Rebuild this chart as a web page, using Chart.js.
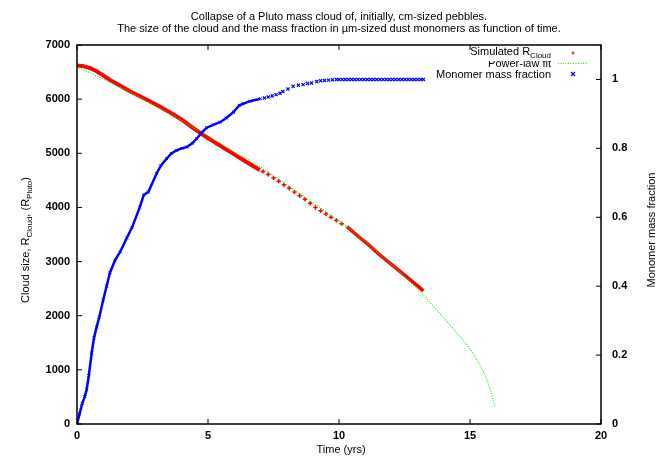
<!DOCTYPE html>
<html>
<head>
<meta charset="utf-8">
<script src="https://cdn.jsdelivr.net/npm/chart.js@4.4.1/dist/chart.umd.min.js"></script>
<style>
  html, body { margin: 0; padding: 0; background: #fff; }
  #wrap { width: 664px; height: 457px; }
</style>
</head>
<body>
<div id="wrap"><canvas id="cloudChart" width="664" height="457"></canvas></div>
<script>
// titik-titik (tahun, R_Pluto / fraksi)
const xTicks = [0, 5, 10, 15, 20];
const leftTicks = [0, 1000, 2000, 3000, 4000, 5000, 6000, 7000];
const rightTicks = [0, 0.2, 0.4, 0.6, 0.8, 1];

// Simulated R_Cloud - bagian rapat awal
const redDenseT = [0, 0.25, 0.5, 0.75, 1.0, 1.26, 1.6, 2.0, 2.5, 3.17, 3.6, 4.0, 4.4, 4.82, 5.2, 5.6, 6.0, 6.5, 6.98];
const redDenseR = [6620, 6610, 6575, 6515, 6440, 6354, 6260, 6150, 6030, 5861, 5740, 5620, 5480, 5338, 5220, 5100, 4980, 4830, 4692];
// bagian jarang (titik terpisah)
const redSparseT = [7.1, 7.3, 7.5, 7.7, 7.9, 8.1, 8.3, 8.5, 8.7, 8.9, 9.1, 9.3, 9.5, 9.7, 9.9, 10.1];
const redSparseR = [4665, 4610, 4545, 4485, 4420, 4355, 4285, 4215, 4150, 4075, 4000, 3940, 3880, 3820, 3760, 3700];
// bagian rapat akhir
const redTailT = [10.3, 10.8, 11.2, 11.56, 12.0, 12.5, 13.0, 13.22];
const redTailR = [3644, 3440, 3280, 3122, 2947, 2748, 2550, 2460];

// Power-law fit
const fitT = [0, 1, 2, 3, 4, 5, 6, 7, 8, 9, 10, 11, 12, 13, 13.5, 14, 14.5, 15, 15.3, 15.6, 15.8, 15.95];
const fitR = [6600, 6370, 6130, 5870, 5600, 5320, 5030, 4750, 4420, 4090, 3750, 3370, 2950, 2490, 2230, 1960, 1680, 1390, 1150, 870, 600, 330];

// Monomer mass fraction
const blueDenseT = [0, 0.1, 0.2, 0.3, 0.37, 0.45, 0.56, 0.65, 0.75, 0.85, 1.0, 1.13, 1.26, 1.45, 1.65, 1.9, 2.1, 2.4, 2.55, 2.72, 3.04, 3.2, 3.42, 3.6, 3.8, 4.0, 4.19, 4.4, 4.57, 4.75, 4.95, 5.2, 5.46, 5.7, 5.97, 6.2, 6.35, 6.6, 7.0];
const blueDenseF = [0, 0.03, 0.06, 0.08, 0.10, 0.14, 0.206, 0.25, 0.282, 0.31, 0.36, 0.40, 0.44, 0.475, 0.50, 0.54, 0.57, 0.63, 0.665, 0.673, 0.727, 0.75, 0.77, 0.785, 0.794, 0.80, 0.804, 0.815, 0.828, 0.845, 0.86, 0.868, 0.876, 0.888, 0.905, 0.925, 0.93, 0.937, 0.944];
const blueSparseT = [7.15, 7.3, 7.45, 7.6, 7.75, 7.86, 8.05, 8.25, 8.45, 8.63, 8.8, 8.95, 9.15, 9.3, 9.45, 9.6, 9.75, 9.9];
const blueSparseF = [0.946, 0.949, 0.952, 0.956, 0.96, 0.965, 0.972, 0.98, 0.983, 0.985, 0.988, 0.99, 0.994, 0.996, 0.997, 0.998, 0.999, 1.0];
const blueFlatT = [10.0, 10.12, 10.24, 10.36, 10.48, 10.6, 10.72, 10.84, 10.96, 11.08, 11.2, 11.32, 11.44, 11.56, 11.68, 11.8, 11.92, 12.04, 12.16, 12.28, 12.4, 12.52, 12.64, 12.76, 12.88, 13.0, 13.12, 13.22];
const blueFlatF = [1, 1, 1, 1, 1, 1, 1, 1, 1, 1, 1, 1, 1, 1, 1, 1, 1, 1, 1, 1, 1, 1, 1, 1, 1, 1, 1, 1];

const RED = '#ff0000';
const GREEN = '#11ee11';
const BLUE = '#0000ff';
const FONT = "'Liberation Sans', Arial, sans-serif";

function pts(xs, ys) {
    return xs.map((x, i) => ({ x: x, y: ys[i] }));
}

function fixTicks(values) {
    return function(scale) {
        scale.ticks = values.map(v => ({ value: v }));
    };
}

// teks dengan subskrip, rata kanan / tengah
function drawParts(ctx, parts, x, y, align) {
    const widths = parts.map(p => {
        ctx.font = p.sub ? `8px ${FONT}` : `11px ${FONT}`;
        return ctx.measureText(p.t).width;
    });
    const total = widths.reduce((a, b) => a + b, 0);
    let cx = align === 'right' ? x - total : (align === 'center' ? x - total / 2 : x);
    ctx.textAlign = 'left';
    ctx.textBaseline = 'alphabetic';
    parts.forEach((p, i) => {
        ctx.font = p.sub ? `8px ${FONT}` : `11px ${FONT}`;
        ctx.fillText(p.t, cx, p.sub ? y + 3 : y);
        cx += widths[i];
    });
}

const gnuplotLook = {
    id: 'gnuplotLook',
    afterDraw(chart) {
        const ctx = chart.ctx;
        const a = chart.chartArea;
        const sx = chart.scales.x, sy = chart.scales.y, sy2 = chart.scales.y2;
        ctx.save();
        ctx.fillStyle = '#000';
        ctx.strokeStyle = '#000';

        // judul
        ctx.font = `11px ${FONT}`;
        ctx.textAlign = 'center';
        ctx.textBaseline = 'middle';
        ctx.fillText('Collapse of a Pluto mass cloud of, initially, cm-sized pebbles.', 339, 17);
        ctx.fillText('The size of the cloud and the mass fraction in \u00b5m-sized dust monomers as function of time.', 339, 29);

        // bingkai
        ctx.lineWidth = 1.5;
        ctx.strokeRect(a.left, a.top, a.right - a.left, a.bottom - a.top);

        // tick ke dalam
        ctx.lineWidth = 1;
        ctx.beginPath();
        xTicks.forEach(v => {
            const px = sx.getPixelForValue(v);
            ctx.moveTo(px, a.bottom); ctx.lineTo(px, a.bottom - 5);
            ctx.moveTo(px, a.top); ctx.lineTo(px, a.top + 5);
        });
        leftTicks.forEach(v => {
            const py = sy.getPixelForValue(v);
            ctx.moveTo(a.left, py); ctx.lineTo(a.left + 5, py);
        });
        rightTicks.forEach(v => {
            const py = sy2.getPixelForValue(v);
            ctx.moveTo(a.right, py); ctx.lineTo(a.right - 5, py);
        });
        ctx.stroke();

        // label sumbu
        ctx.font = `11px ${FONT}`;
        ctx.textAlign = 'center';
        ctx.textBaseline = 'middle';
        ctx.fillText('Time (yrs)', 341, 450);

        ctx.save();
        ctx.translate(29, 240);
        ctx.rotate(-Math.PI / 2);
        drawParts(ctx, [
            { t: 'Cloud size, R' }, { t: 'Cloud', sub: true }, { t: ', (R' },
            { t: 'Pluto', sub: true }, { t: ')' }
        ], 0, 0, 'center');
        ctx.restore();

        ctx.save();
        ctx.translate(655, 230);
        ctx.rotate(-Math.PI / 2);
        ctx.font = `11px ${FONT}`;
        ctx.textAlign = 'center';
        ctx.textBaseline = 'alphabetic';
        ctx.fillText('Monomer mass fraction', 0, 0);
        ctx.restore();

        // legenda
        drawParts(ctx, [{ t: 'Simulated R' }, { t: 'Cloud', sub: true }], 551, 55, 'right');
        ctx.save();
        ctx.beginPath();
        ctx.rect(400, 61, 200, 20);
        ctx.clip();
        ctx.font = `11px ${FONT}`;
        ctx.textAlign = 'right';
        ctx.fillText('Power-law fit', 551, 67);
        ctx.restore();
        ctx.font = `11px ${FONT}`;
        ctx.textAlign = 'right';
        ctx.fillText('Monomer mass fraction', 551, 78);

        ctx.strokeStyle = RED;
        ctx.lineWidth = 1.2;
        ctx.beginPath();
        ctx.moveTo(571.5, 53); ctx.lineTo(574.5, 53);
        ctx.moveTo(573, 51.5); ctx.lineTo(573, 54.5);
        ctx.stroke();

        ctx.strokeStyle = GREEN;
        ctx.setLineDash([1, 1.5]);
        ctx.beginPath();
        ctx.moveTo(558, 63.5); ctx.lineTo(588, 63.5);
        ctx.stroke();
        ctx.setLineDash([]);

        ctx.strokeStyle = BLUE;
        ctx.beginPath();
        ctx.moveTo(571, 72); ctx.lineTo(575, 76);
        ctx.moveTo(575, 72); ctx.lineTo(571, 76);
        ctx.stroke();

        ctx.restore();
    }
};

new Chart(document.getElementById('cloudChart').getContext('2d'), {
    type: 'scatter',
    plugins: [gnuplotLook],
    data: {
        datasets: [
            {
                label: 'Simulated R_Cloud',
                data: pts(redDenseT, redDenseR),
                yAxisID: 'y', order: 3,
                showLine: true, borderColor: RED, borderWidth: 4, pointRadius: 0
            },
            {
                label: 'Simulated R_Cloud (sparse)',
                data: pts(redSparseT, redSparseR),
                yAxisID: 'y', order: 3,
                showLine: false, pointStyle: 'cross', pointRadius: 2.2,
                borderColor: RED, backgroundColor: RED, borderWidth: 1.5
            },
            {
                label: 'Simulated R_Cloud (tail)',
                data: pts(redTailT, redTailR),
                yAxisID: 'y', order: 3,
                showLine: true, borderColor: RED, borderWidth: 3.5, pointRadius: 0
            },
            {
                label: 'Power-law fit',
                data: pts(fitT, fitR),
                yAxisID: 'y', order: 2,
                showLine: true, borderColor: GREEN, borderWidth: 1.2,
                borderDash: [1, 1.5], pointRadius: 0, cubicInterpolationMode: 'monotone'
            },
            {
                label: 'Monomer mass fraction',
                data: pts(blueDenseT, blueDenseF),
                yAxisID: 'y2', order: 1,
                showLine: true, borderColor: BLUE, backgroundColor: BLUE, borderWidth: 2.5,
                pointStyle: 'crossRot', pointRadius: 2, pointBorderWidth: 1
            },
            {
                label: 'Monomer mass fraction (sparse)',
                data: pts(blueSparseT, blueSparseF),
                yAxisID: 'y2', order: 1,
                showLine: false, borderColor: BLUE, backgroundColor: BLUE,
                pointStyle: 'crossRot', pointRadius: 2.2, borderWidth: 1.2
            },
            {
                label: 'Monomer mass fraction (flat)',
                data: pts(blueFlatT, blueFlatF),
                yAxisID: 'y2', order: 1,
                showLine: false, borderColor: BLUE, backgroundColor: BLUE,
                pointStyle: 'crossRot', pointRadius: 2.2, borderWidth: 1.2
            }
        ]
    },
    options: {
        responsive: false,
        animation: false,
        layout: { padding: { top: 45, left: 0, right: 0, bottom: 0 } },
        plugins: {
            legend: { display: false },
            tooltip: { enabled: false }
        },
        scales: {
            x: {
                type: 'linear', min: 0, max: 20,
                afterBuildTicks: fixTicks(xTicks),
                afterFit: (s) => { s.height = 33; },
                grid: { display: false, drawTicks: false },
                border: { display: false },
                ticks: {
                    padding: 5, color: '#000',
                    font: { family: FONT, size: 11, weight: 'bold' },
                    callback: v => String(v)
                }
            },
            y: {
                type: 'linear', position: 'left', min: 0, max: 7000,
                afterBuildTicks: fixTicks(leftTicks),
                afterFit: (s) => { s.width = 77; },
                grid: { display: false, drawTicks: false },
                border: { display: false },
                ticks: {
                    padding: 7, color: '#000',
                    font: { family: FONT, size: 11, weight: 'bold' },
                    callback: v => String(v)
                }
            },
            y2: {
                type: 'linear', position: 'right', min: 0, max: 1.1,
                afterBuildTicks: fixTicks(rightTicks),
                afterFit: (s) => { s.width = 63; },
                grid: { display: false, drawTicks: false },
                border: { display: false },
                ticks: {
                    padding: 11, color: '#000',
                    font: { family: FONT, size: 11, weight: 'bold' },
                    callback: v => String(v)
                }
            }
        }
    }
});
</script>
</body>
</html>
